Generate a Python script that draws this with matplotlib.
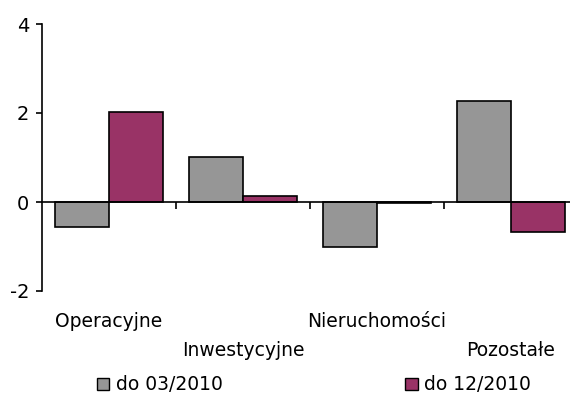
import numpy as np
import matplotlib.pyplot as plt
from matplotlib.patches import Patch

categories = ["Operacyjne", "Inwestycyjne", "Nieruchomości", "Pozostałe"]
series_names = ["do 03/2010", "do 12/2010"]
values_03 = [-0.56, 1.01, -1.01, 2.27]
values_12 = [2.02, 0.13, -0.03, -0.67]
colors = ["#969696", "#993366"]

plt.rcParams['font.family'] = ['DejaVu Sans']
plt.rcParams['axes.unicode_minus'] = False

fig = plt.figure(figsize=(5.7, 3.96), dpi=100)
ax = fig.add_axes([42 / 570, 1 - 291 / 396, 536 / 570, 267 / 396])

x = np.arange(len(categories))
w = 0.4
ax.bar(x - w / 2, values_03, w, color=colors[0], edgecolor='black', linewidth=1.2)
ax.bar(x + w / 2, values_12, w, color=colors[1], edgecolor='black', linewidth=1.2)

ax.set_xlim(-0.5, len(categories) - 0.5)
ax.set_ylim(-2, 4)
ax.set_yticks([-2, 0, 2, 4])
ax.tick_params(axis='y', direction='out', length=4, width=1.2, labelsize=14, pad=5)

for s in ['top', 'right']:
    ax.spines[s].set_visible(False)
ax.spines['left'].set_linewidth(1.2)
ax.spines['bottom'].set_position(('data', 0))
ax.spines['bottom'].set_linewidth(1.2)

ax.set_xticks([])
ax.set_xticks(x[:-1] + 0.5, minor=True)
ax.tick_params(axis='x', which='minor', direction='out', length=5, width=1.2)

trans = ax.get_xaxis_transform()
for i, name in enumerate(categories):
    yy = -0.116 if i % 2 == 0 else -0.221
    ax.text(x[i], yy, name, transform=trans, ha='center', va='center', fontsize=13.5)

handles = [Patch(facecolor=c, edgecolor='black', linewidth=1) for c in colors]
fig.legend(handles, series_names, loc='center', bbox_to_anchor=(314 / 570, 1 - 385 / 396),
           ncol=2, frameon=False, fontsize=13.5, handlelength=0.65, handleheight=0.65,
           handletextpad=0.35, columnspacing=9.75)

fig.savefig('out.png', dpi=100)
